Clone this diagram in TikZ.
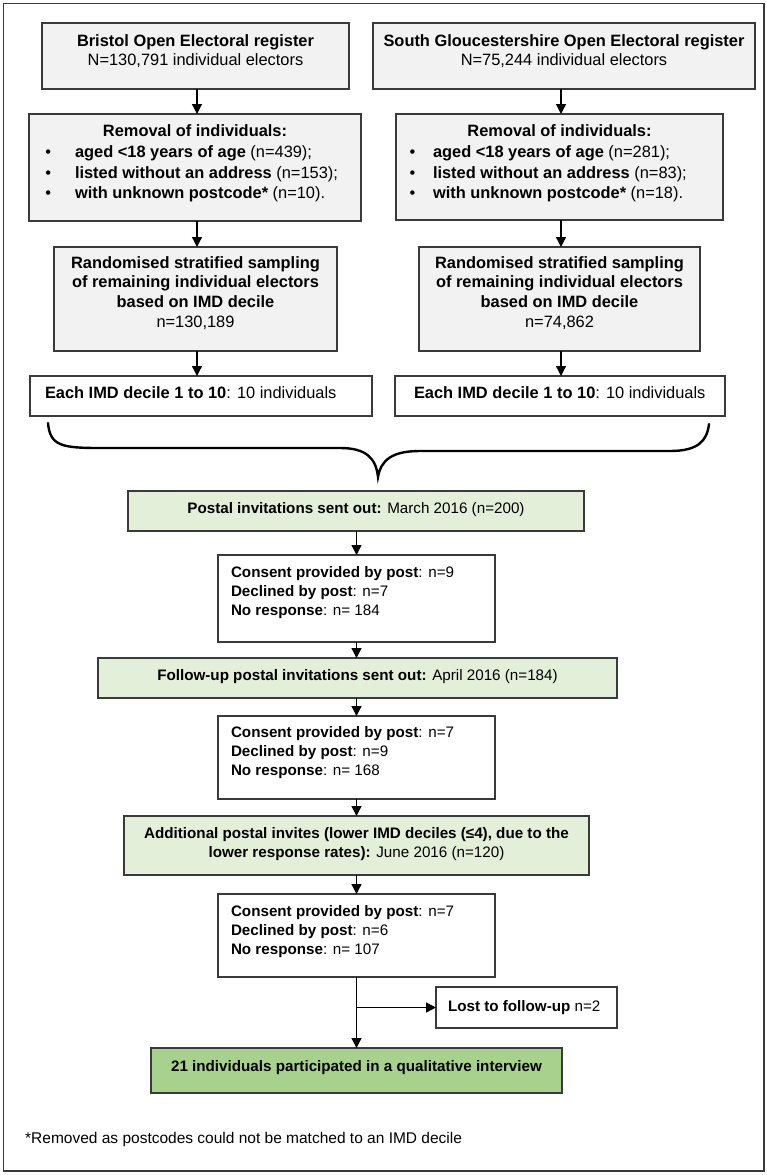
\documentclass[tikz,border=0pt]{standalone}
\usepackage{fontspec}
\setmainfont{Liberation Sans}
\usetikzlibrary{arrows.meta}
\definecolor{boxgray}{HTML}{F2F2F2}
\definecolor{lgreen}{HTML}{E3EFD9}
\definecolor{dgreen}{HTML}{A9D18E}
\definecolor{edgec}{HTML}{3A3A3A}
\newcommand\bxc[3]{\begin{minipage}[t][#2][t]{#1}#3\end{minipage}}
\newcommand\bul[2]{\hspace*{#1}\makebox[#2][l]{\textbullet}}
\begin{document}
\begin{tikzpicture}[x=1pt,y=-1pt,
  font=\fontsize{16.4}{18.5}\selectfont,
  bx/.style={draw=edgec, line width=1.2pt, inner sep=0pt, outer sep=0pt, anchor=north west},
  graybox/.style={bx, fill=boxgray},
  greenbox/.style={bx, fill=lgreen, lowfont},
  finalbox/.style={bx, fill=dgreen, lowfont},
  whitebox/.style={bx, fill=white},
  lowfont/.style={font=\fontsize{15.2}{19}\selectfont},
  arr/.style={-{Triangle[length=10pt,width=10pt]}, line width=1.3pt, black},
  bracepath/.style={line width=2.4pt, black, line cap=round}]
\useasboundingbox (0,0) rectangle (767,1175);
\draw[draw=edgec, line width=1.3pt] (3.5,3.5) rectangle (764,1171);

% left column
\node[graybox] (b1) at (42,23) {\bxc{307pt}{66pt}{\fontsize{16.4}{18.3}\selectfont\centering\rule{0pt}{23.7pt}\textbf{Bristol Open Electoral register}\\N=130,791 individual electors}};
\node[graybox] (r1) at (29,114) {\bxc{332pt}{107pt}{\fontsize{16.4}{20.7}\selectfont\centering\rule{0pt}{22.7pt}\textbf{Removal of individuals:}\par\raggedright
\bul{16.5pt}{29.5pt}\textbf{aged <18 years of age} (n=439);\par
\bul{16.5pt}{29.5pt}\textbf{listed without an address} (n=153);\par
\bul{16.5pt}{29.5pt}\textbf{with unknown postcode*} (n=10).}};
\node[graybox] (s1) at (54,247) {\bxc{283pt}{104pt}{\fontsize{16.4}{19.7}\selectfont\centering\rule{0pt}{21pt}\textbf{Randomised stratified sampling}\\\textbf{of remaining individual electors}\\\textbf{based on IMD decile}\\n=130,189}};
\node[whitebox] (e1) at (30,376) {\bxc{342pt}{40pt}{\raggedright\rule{0pt}{22pt}\hspace*{15pt}\textbf{Each IMD decile 1 to 10}: 10 individuals}};

% right column
\node[graybox] (b2) at (373,23) {\bxc{382pt}{66pt}{\fontsize{16.4}{18.3}\selectfont\centering\rule{0pt}{23.7pt}\textbf{South Gloucestershire Open Electoral register}\\N=75,244 individual electors}};
\node[graybox] (r2) at (396,114) {\bxc{327pt}{106pt}{\fontsize{16.4}{20.7}\selectfont\centering\rule{0pt}{22.7pt}\textbf{Removal of individuals:}\par\raggedright
\bul{13.5pt}{23.5pt}\textbf{aged <18 years of age} (n=281);\par
\bul{13.5pt}{23.5pt}\textbf{listed without an address} (n=83);\par
\bul{13.5pt}{23.5pt}\textbf{with unknown postcode*} (n=18).}};
\node[graybox] (s2) at (419,247) {\bxc{281pt}{104pt}{\fontsize{16.4}{19.7}\selectfont\centering\rule{0pt}{21pt}\textbf{Randomised stratified sampling}\\\textbf{of remaining individual electors}\\\textbf{based on IMD decile}\\n=74,862}};
\node[whitebox] (e2) at (395,376) {\bxc{330pt}{40pt}{\raggedright\rule{0pt}{22pt}\hspace*{19pt}\textbf{Each IMD decile 1 to 10}: 10 individuals}};

% brace
\draw[bracepath] (48,423) .. controls (50,446) and (62,448) .. (100,448) -- (340,448) .. controls (366,448) and (376,458) .. (378,477) .. controls (381,460) and (392,451) .. (420,451) -- (670,451) .. controls (698,451) and (707,441) .. (709,424);

% centre column
\node[greenbox] (g1) at (128,491) {\bxc{456pt}{40pt}{\centering\rule{0pt}{22pt}\textbf{Postal invitations sent out:} March 2016 (n=200)}};
\node[whitebox, lowfont] (c1) at (218,555) {\bxc{277pt}{87pt}{\raggedright\leftskip=13pt\rule{0pt}{22pt}\textbf{Consent provided by post}: n=9\\\textbf{Declined by post}: n=7\\\textbf{No response}: n= 184}};
\node[greenbox] (g2) at (98,658) {\bxc{519pt}{40pt}{\centering\rule{0pt}{22pt}\textbf{Follow-up postal invitations sent out:} April 2016 (n=184)}};
\node[whitebox, lowfont] (c2) at (218,716) {\bxc{277pt}{83pt}{\raggedright\leftskip=13pt\rule{0pt}{21pt}\textbf{Consent provided by post}: n=7\\\textbf{Declined by post}: n=9\\\textbf{No response}: n= 168}};
\node[greenbox] (g3) at (124,816) {\bxc{465pt}{59pt}{\centering\rule{0pt}{22pt}\textbf{Additional postal invites (lower IMD deciles (≤4), due to the}\\\textbf{lower response rates):} June 2016 (n=120)}};
\node[whitebox, lowfont] (c3) at (218,894) {\bxc{277pt}{83pt}{\raggedright\leftskip=13pt\rule{0pt}{22pt}\textbf{Consent provided by post}: n=7\\\textbf{Declined by post}: n=6\\\textbf{No response}: n= 107}};
\node[whitebox, lowfont] (lost) at (436,987) {\bxc{181pt}{41pt}{\raggedright\leftskip=12pt\rule{0pt}{24pt}\textbf{Lost to follow-up} n=2}};
\node[finalbox] (fin) at (151,1048) {\bxc{411pt}{45pt}{\centering\rule{0pt}{23pt}\textbf{21 individuals participated in a qualitative interview}}};

\node[anchor=base west, inner sep=0pt, font=\fontsize{15.5}{18}\selectfont] (foot) at (25,1143) {*Removed as postcodes could not be matched to an IMD decile};

% arrows left
\draw[arr] (b1.south -| 197,0) -- (r1.north -| 197,0);
\draw[arr] (r1.south -| 197,0) -- (s1.north -| 197,0);
\draw[arr] (s1.south -| 197,0) -- (e1.north -| 197,0);
% arrows right
\draw[arr] (b2.south -| 561,0) -- (r2.north -| 561,0);
\draw[arr] (r2.south -| 561,0) -- (s2.north -| 561,0);
\draw[arr] (s2.south -| 561,0) -- (e2.north -| 561,0);
% centre arrows
\draw[arr] (g1.south -| c1.north) -- (c1.north);
\draw[arr] (c1.south) -- (g2.north -| c1.south);
\draw[arr] (g2.south -| c2.north) -- (c2.north);
\draw[arr] (c2.south) -- (g3.north -| c2.south);
\draw[arr] (g3.south -| c3.north) -- (c3.north);
\draw[arr] (c3.south) -- (fin.north -| c3.south);
\coordinate (br) at (c3.south |- lost.west);
\draw[arr] (br) -- (lost.west);
\end{tikzpicture}
\end{document}
